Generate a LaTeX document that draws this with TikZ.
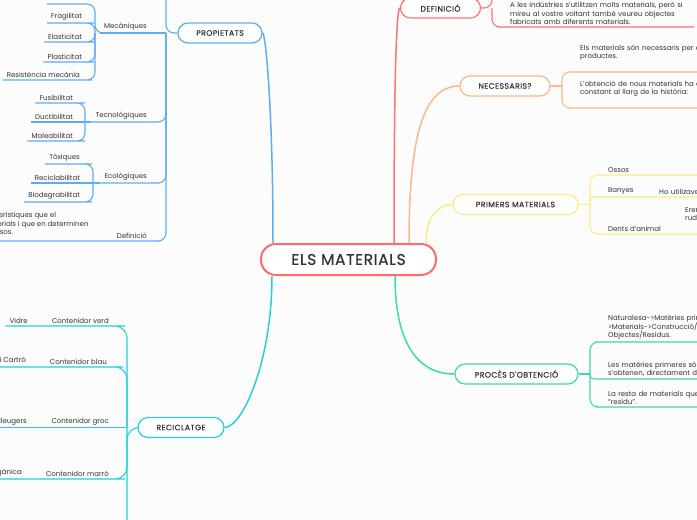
\documentclass[tikz,border=0pt]{standalone}
\usepackage{fontspec}
\setmainfont{Poppins}
\newfontfamily\headfont[LetterSpace=5,FakeBold=0.35]{Poppins}
\newfontfamily\rootfont[LetterSpace=4,FakeBold=0.6]{Poppins}
\usetikzlibrary{positioning,calc}

\definecolor{rootred}{HTML}{FF6B6B}
\definecolor{defred}{HTML}{FF7373}
\definecolor{propblue}{HTML}{5DADF5}
\definecolor{neceorange}{HTML}{FFB787}
\definecolor{primyellow}{HTML}{FFEA8A}
\definecolor{procgreen}{HTML}{3DDBA6}
\definecolor{recteal}{HTML}{26CFDB}
\definecolor{txt}{HTML}{333333}
\definecolor{paper}{HTML}{FCFCFC}

\begin{document}
\begin{tikzpicture}[
  x=1pt, y=-1pt,
  every node/.style={text=txt, font=\fontsize{7}{8.5}\selectfont},
  root/.style={draw=rootred, line width=2pt, fill=white, rounded corners=15pt,
    minimum width=175pt, minimum height=31pt, font=\rootfont\fontsize{15.5}{15.5}\selectfont},
  topic/.style={draw=#1, line width=1.2pt, fill=white, rounded corners=10pt, inner xsep=0pt,
    minimum height=20pt, font=\headfont\fontsize{7.8}{8}\selectfont},
  lf/.style={inner xsep=4pt, inner ysep=2pt, anchor=south east},
  rt/.style={inner xsep=4pt, inner ysep=2pt, anchor=south west, align=left},
  br/.style={draw=#1, line width=1.1pt, rounded corners=8pt},
  link/.style={draw=#1, line width=1.5pt}
  ]

   \useasboundingbox (0,0) rectangle (697,520);
   \fill [paper] (0,0) rectangle (697,520);
   \clip (0,0) rectangle (697,520);

   % main topics
   \node (root) [root] at (348.5,259.5) {ELS MATERIALS};
   \node (prop) [topic=propblue, minimum width=84pt] at (220,33) {PROPIETATS};
   \node (defi) [topic=defred, minimum width=80pt] at (440.5,8) {DEFINICIÓ};
   \node (nece) [topic=neceorange, minimum width=90pt] at (505,86) {NECESSARIS?};
   \node (prim) [topic=primyellow, minimum width=125pt] at (515.5,204.5) {PRIMERS MATERIALS};
   \node (proc) [topic=procgreen, minimum width=123pt] at (516.5,374) {PROCÈS D'OBTENCIÓ};
   \node (reci) [topic=recteal, minimum width=86pt] at (181,427.5) {RECICLATGE};

   \draw [link=propblue] ($(root.north west)+(13,0)$) .. controls +(0,-134) and +(3,0) .. (prop.east);
   \draw [link=defred] ($(root.north west)+(134,0)$) .. controls +(0,-180) and +(-3,0) .. (defi.west);
   \draw [link=neceorange] ($(root.north west)+(149,0)$) .. controls +(0,-110) and +(-35,0) .. (nece.west);
   \draw [link=primyellow] ($(root.north west)+(166,0)$) .. controls +(0,-28) and +(-13,0) .. (prim.west);
   \draw [link=procgreen] ($(root.south west)+(135,0)$) .. controls +(0,70) and +(-35,0) .. (proc.west);
   \draw [link=recteal] ($(root.south west)+(12,0)$) .. controls +(0,85) and +(18,0) .. (reci.east);

   % propietats
   \coordinate (propB) at (166,33);
   \coordinate (propT) at (166,-10);
   \node (mec) [lf] at (151,33) {Mecàniques};
   \node (tec) [lf] at (151,122) {Tecnològiques};
   \node (eco) [lf] at (151,183) {Ecològiques};
   \node (defn) [lf] at (151,241) {Definició};
   \node (defx) [rt, inner ysep=4pt] at (-55,241) {Són les característiques que el\\ tenen els materials i que en determinen\\ els possibles usos.};
   \draw [br=propblue] (prop.west) -- (propB) -- (propT);
   \draw [br=propblue] (propB) -- (mec.south east) -- (mec.south west);
   \draw [br=propblue] (propB) |- (tec.south east) -- (tec.south west);
   \draw [br=propblue] (propB) |- (eco.south east) -- (eco.south west);
   \draw [br=propblue] (propB) |- (defn.south east) -- (defn.south west) -- (defx.south west);

   \coordinate (mecB) at (95,33);
   \coordinate (mecT) at (47,4);
   \node (fra) [lf] at (86,23) {Fragilitat};
   \node (ela) [lf] at (86,42) {Elasticitat};
   \node (pla) [lf] at (86,62) {Plasticitat};
   \node (res) [lf] at (84,80) {Resistència mecània};
   \draw [br=propblue] (mec.south west) -- (mecB) |- (mecT);
   \draw [br=propblue] (mecB) |- (fra.south east) -- (fra.south west);
   \draw [br=propblue] (mecB) |- (ela.south east) -- (ela.south west);
   \draw [br=propblue] (mecB) |- (pla.south east) -- (pla.south west);
   \draw [br=propblue] (mecB) |- (res.south east) -- (res.south west);

   \coordinate (tecB) at (85,122);
   \node (fus) [lf] at (77,103) {Fusibilitat};
   \node (duc) [lf] at (77,122) {Ductibilitat};
   \node (mal) [lf] at (77,141) {Maleabilitat};
   \draw [br=propblue] (tec.south west) -- (tecB);
   \draw [br=propblue] (tecB) |- (fus.south east) -- (fus.south west);
   \draw [br=propblue] (tecB) -- (duc.south east) -- (duc.south west);
   \draw [br=propblue] (tecB) |- (mal.south east) -- (mal.south west);

   \coordinate (ecoB) at (93,183);
   \node (tox) [lf] at (84,164) {Tòxiques};
   \node (rcl) [lf] at (84,183) {Reciclabilitat};
   \node (bio) [lf] at (84,202) {Biodegrabilitat};
   \draw [br=propblue] (eco.south west) -- (ecoB);
   \draw [br=propblue] (ecoB) |- (tox.south east) -- (tox.south west);
   \draw [br=propblue] (ecoB) -- (rcl.south east) -- (rcl.south west);
   \draw [br=propblue] (ecoB) |- (bio.south east) -- (bio.south west);

   % reciclatge
   \coordinate (reciB) at (127,427.5);
   \coordinate (reciD) at (90,560);
   \node (verd) [lf] at (113,326) {Contenidor verd};
   \node (vid) [lf] at (32,326) {Vidre};
   \node (blau) [lf] at (111,367) {Contenidor blau};
   \node (pap) [lf] at (30,367) {Paper i Cartró};
   \node (groc) [lf] at (113,427.5) {Contenidor groc};
   \node (env) [lf] at (31,427.5) {Envasos lleugers};
   \node (marr) [lf] at (113,479) {Contenidor marró};
   \node (org) [lf] at (26,479) {Matèria orgànica};
   \draw [br=recteal, rounded corners=12pt] (reci.west) -- (reciB) |- (reciD);
   \draw [br=recteal, rounded corners=12pt] (reciB) |- (verd.south east) -- (verd.south west) -- (vid.south west);
   \draw [br=recteal, rounded corners=12pt] (reciB) |- (blau.south east) -- (blau.south west) -- (pap.south west);
   \draw [br=recteal] (reciB) -- (groc.south east) -- (groc.south west) -- (env.south west);
   \draw [br=recteal, rounded corners=12pt] (reciB) |- (marr.south east) -- (marr.south west) -- (org.south west);

   % definicio
   \coordinate (defiB) at (492,8);
   \coordinate (defiT) at (492,-10);
   \node (indu) [rt, text width=180pt] at (506,27) {A les indústries s'utilitzen molts materials, però si\\ mireu al vostre voltant també veureu objectes\\ fabricats amb diferents materials.};
   \draw [br=defred] (defi.east) -- (defiB) -- (defiT);
   \draw [br=defred] (defiB) |- (indu.south west) -- (indu.south east);

   % necessaris
   \coordinate (neceB) at (562,86);
   \node (nmat) [rt, text width=200pt] at (576,72) {Els materials són necessaris per a obtenir\\ productes.\\ \strut};
   \node (nobt) [rt, text width=200pt] at (576,108) {L'obtenció de nous materials ha estat\\ constant al llarg de la història:\\ \strut};
   \draw [br=neceorange] (nece.east) -- (neceB);
   \draw [br=neceorange] (neceB) |- (nmat.south west) -- (nmat.south east);
   \draw [br=neceorange] (neceB) |- (nobt.south west) -- (nobt.south east);

   % primers materials
   \coordinate (primB) at (590,204.5);
   \node (oss) [rt, text width=120pt] at (604,175) {Ossos};
   \node (ban) [rt] at (604,197) {Banyes};
   \node (hout) [rt, text width=100pt] at (655,197) {Ho utilizaven};
   \node (den) [rt] at (604,234) {Dents d'animal};
   \node (eren) [rt, text width=100pt] at (681,234) {Eren\\ rudimentaris\\ \strut};
   \draw [br=primyellow] (prim.east) -- (primB);
   \draw [br=primyellow] (primB) |- (oss.south west) -- (oss.south east);
   \draw [br=primyellow, rounded corners=4pt] (primB) |- (ban.south west) -- (ban.south east) -- (hout.south east);
   \draw [br=primyellow] (primB) |- (den.south west) -- (den.south east) -- (eren.south east);

   % proces d'obtencio
   \coordinate (procB) at (590,374);
   \node (nat) [rt, text width=200pt] at (604,342) {Naturalesa->Matèries primeres-\\ >Materials->Construcció/Fabricació->\\ Objectes/Residus.};
   \node (mprim) [rt, text width=200pt] at (604,379) {Les matèries primeres són les substàncies que\\ s'obtenen, directament de la naturalesa.};
   \node (rest) [rt, text width=200pt] at (604,407) {La resta de materials que no es pot aprofitar és\\ "residu".};
   \draw [br=procgreen] (proc.east) -- (procB);
   \draw [br=procgreen] (procB) |- (nat.south west) -- (nat.south east);
   \draw [br=procgreen, rounded corners=4pt] (procB) |- (mprim.south west) -- (mprim.south east);
   \draw [br=procgreen] (procB) |- (rest.south west) -- (rest.south east);

\end{tikzpicture}
\end{document}
